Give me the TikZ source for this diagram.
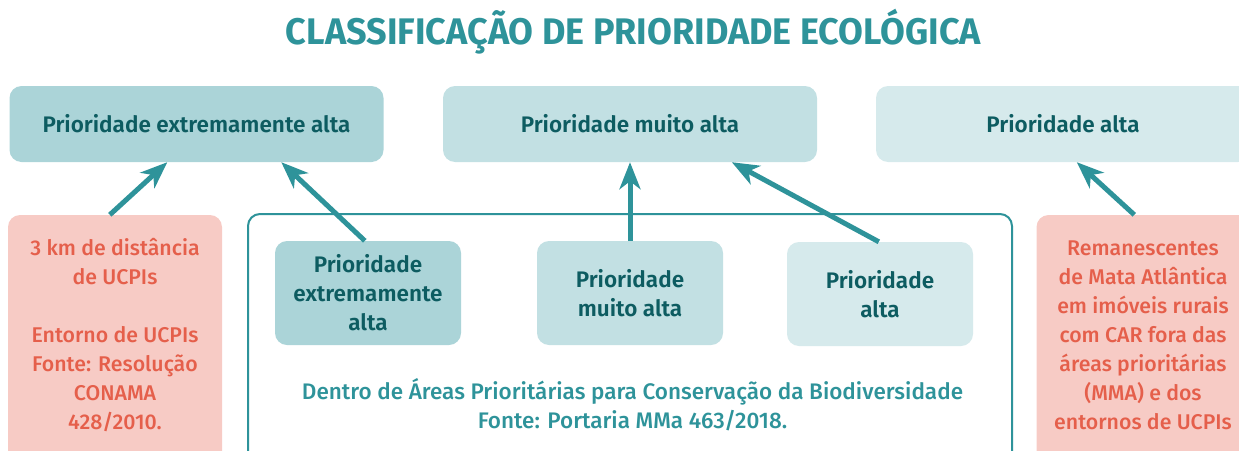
\documentclass[tikz,border=0pt]{standalone}
\usepackage{fontspec}
\setmainfont{Fira Sans}[UprightFont={* Medium}, BoldFont={* Bold}]
\newfontfamily\semib{Fira Sans SemiBold}
\usetikzlibrary{arrows.meta,calc}
\definecolor{tealA}{HTML}{2E939A}
\definecolor{darkT}{HTML}{0D5C61}
\definecolor{pinkF}{HTML}{F7CBC5}
\definecolor{pinkT}{HTML}{E55F4B}
\definecolor{fillA}{HTML}{ABD4D8}
\definecolor{fillB}{HTML}{C2E0E3}
\definecolor{fillC}{HTML}{D6EAEC}
\tikzset{
  pbox/.style={rounded corners=12pt, inner sep=0pt, text=darkT, align=center,
    font=\semib\fontsize{22.5}{29}\selectfont},
  topbox/.style={pbox, minimum width=374pt, minimum height=76pt},
  innbox/.style={pbox, minimum width=186pt, minimum height=104pt},
  pinkbox/.style={rounded corners=12pt, fill=pinkF, minimum width=214pt, minimum height=255pt},
  pinktext/.style={text=pinkT, align=center, inner sep=0pt, font=\fontsize{21.3}{29}\selectfont},
  conttext/.style={text=tealA, align=center, inner sep=0pt, font=\fontsize{22.5}{29}\selectfont},
  arr/.style={-{Stealth[length=27pt,width=21pt,inset=8pt]}, line width=5pt, draw=tealA}
}
\begin{document}
\begin{tikzpicture}[x=1pt,y=-1pt]
\useasboundingbox (0,0) rectangle (1239,450);
\node[text=tealA, anchor=base, inner sep=0pt] (title) at (633.5,44)
  {\resizebox{695pt}{\height}{\fontsize{37}{37}\selectfont\bfseries CLASSIFICAÇÃO DE PRIORIDADE ECOLÓGICA}};
% top boxes
\node[topbox, fill=fillA] (top1) at (196.5,124) {Prioridade extremamente alta};
\node[topbox, fill=fillB] (top2) at (630,124) {Prioridade muito alta};
\node[topbox, fill=fillC] (top3) at (1063,124) {Prioridade alta};
% pink boxes
\node[pinkbox] (pinkL) at (115,342.5) {};
\node[pinktext] (pinkLt) at (115,335) {3 km de distância\\de UCPIs\\[29pt]Entorno de UCPIs\\Fonte: Resolução\\CONAMA\\428/2010.};
\node[pinkbox] (pinkR) at (1143.5,342.5) {};
\node[pinktext] (pinkRt) at (1143,335) {Remanescentes\\de Mata Atlântica\\em imóveis rurais\\com CAR fora das\\áreas prioritárias\\(MMA) e dos\\entornos de UCPIs};
% container
\node[draw=tealA, line width=2pt, rounded corners=12pt, fill=white, minimum width=764pt, minimum height=256pt] (cont) at (630,342) {};
\node[innbox, fill=fillA] (innA) at (368,293) {Prioridade\\extremamente\\alta};
\node[innbox, fill=fillB] (innB) at (630,293) {Prioridade\\muito alta};
\node[innbox, fill=fillC] (innC) at (880,294) {Prioridade\\alta};
\node[conttext] (contt) at (632.5,405) {Dentro de Áreas Prioritárias para Conservação da Biodiversidade\\Fonte: Portaria MMa 463/2018.};
% arrows
\draw[arr] ([xshift=102pt]pinkL.north west) -- ([xshift=158pt]top1.south west);
\draw[arr] ([xshift=90pt]innA.north west) -- ([xshift=272pt]top1.south west);
\draw[arr] (innB.north) -- (top2.south);
\draw[arr] ([xshift=92pt]innC.north west) -- ([xshift=289pt]top2.south west);
\draw[arr] ([xshift=98pt]pinkR.north west) -- ([xshift=201pt]top3.south west);
\end{tikzpicture}
\end{document}
